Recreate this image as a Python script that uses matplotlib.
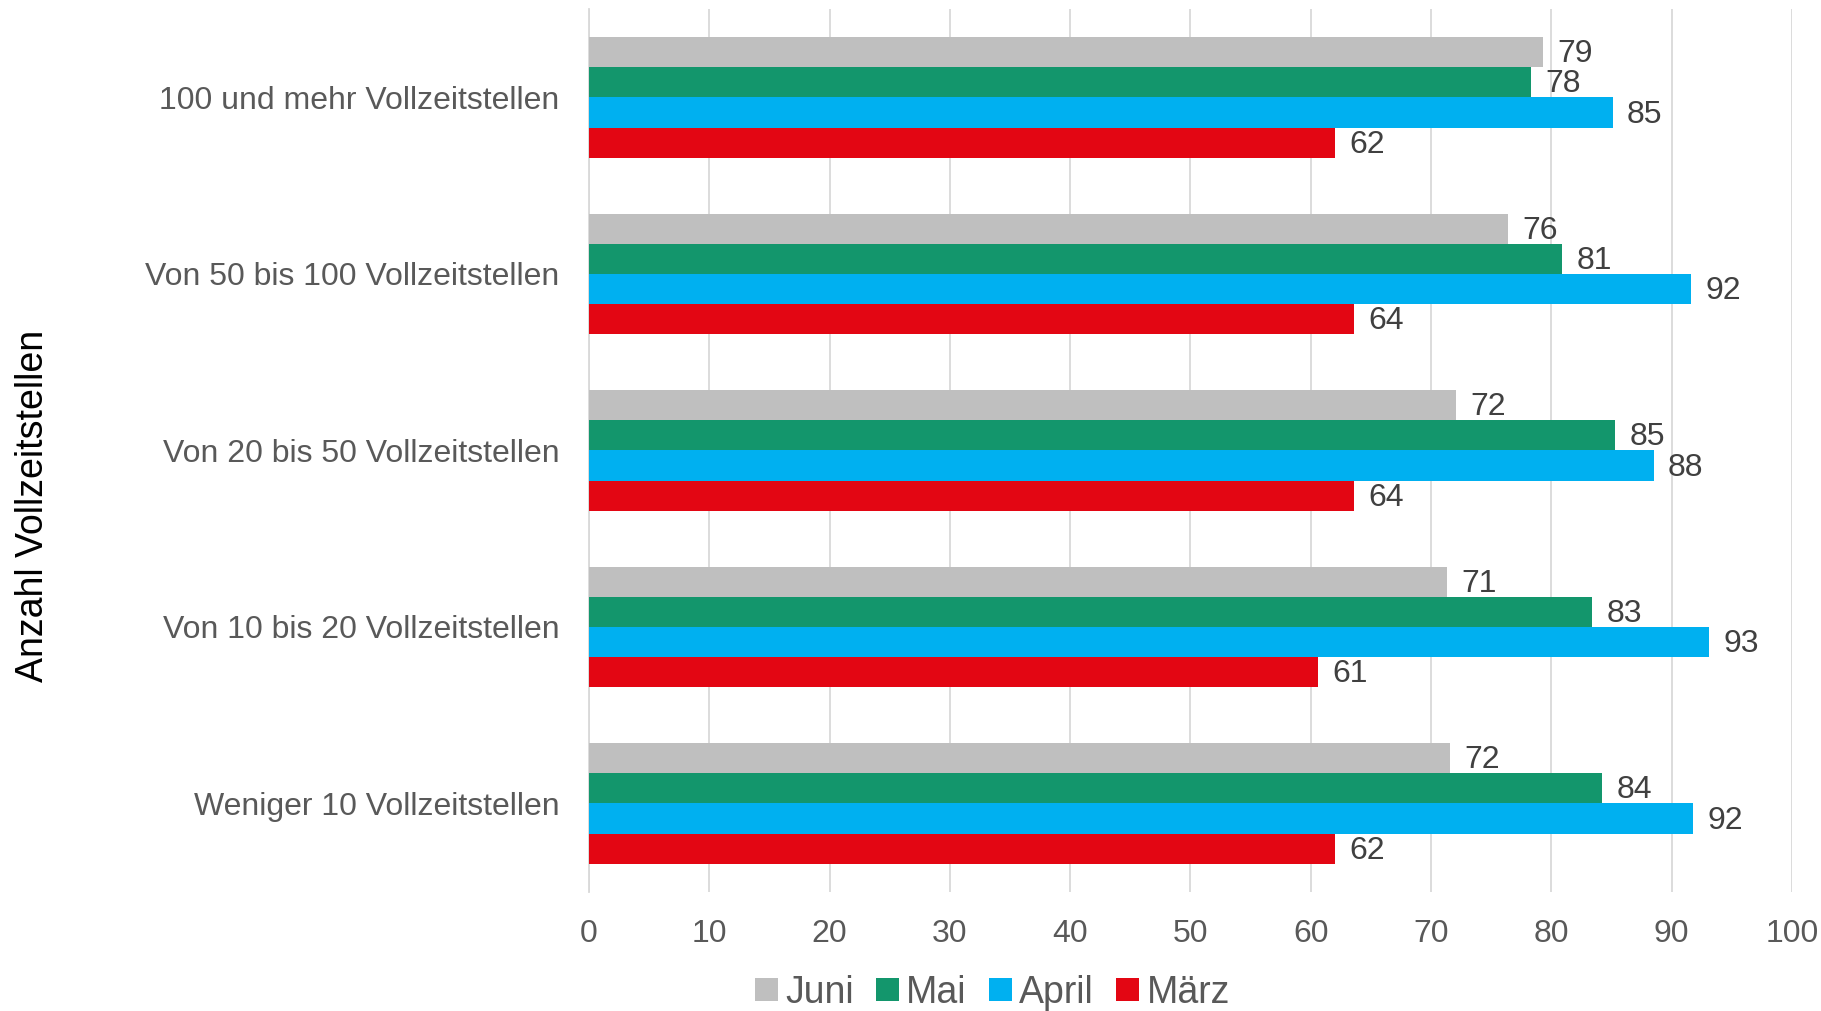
import numpy as np
import matplotlib
matplotlib.use('Agg')
import matplotlib.pyplot as plt

plt.rcParams['font.family'] = ['Liberation Sans', 'DejaVu Sans']

# ------------------- Daten -------------------
categories = [
    '100 und mehr Vollzeitstellen',
    'Von 50 bis 100 Vollzeitstellen',
    'Von 20 bis 50 Vollzeitstellen',
    'Von 10 bis 20 Vollzeitstellen',
    'Weniger 10 Vollzeitstellen',
]
series_names = ['Juni', 'Mai', 'April', 'März']
juni = [79.3, 76.4, 72.1, 71.3, 71.6]
mai = [78.3, 80.9, 85.3, 83.4, 84.2]
april = [85.1, 91.6, 88.5, 93.1, 91.8]
maerz = [62.0, 63.6, 63.6, 60.6, 62.0]
x_ticks = list(range(0, 101, 10))

colors = ['#BFBFBF', '#13966C', '#00B0F0', '#E30613']
series = [juni, mai, april, maerz]

fig = plt.figure(figsize=(18.21, 10.11), dpi=100)
ax = fig.add_axes([0.3234, 0.118, 0.6606, 0.873])

y = np.arange(len(categories))
h = 0.171
offsets = [-1.5, -0.5, 0.5, 1.5]
for vals, name, col, off in zip(series, series_names, colors, offsets):
    bars = ax.barh(y + off * h, vals, height=h, color=col, label=name, zorder=3)
    for b, v in zip(bars, vals):
        ax.text(v + 1.2, b.get_y() + b.get_height() / 2 + 0.012, f'{v:.0f}',
                ha='left', va='center', fontsize=23, color='#404040', zorder=4)

ax.set_xlim(0, 100)
ax.set_ylim(len(categories) - 0.5, -0.5)
ax.set_xticks(x_ticks)
ax.set_yticks(y)
ax.set_yticklabels(categories)
ax.tick_params(axis='x', labelsize=23, colors='#595959', length=0, pad=20)
ax.tick_params(axis='y', labelsize=23, colors='#595959', length=0, pad=21)
ax.grid(axis='x', color='#D9D9D9', linewidth=1.3, zorder=0)
for s in ['top', 'right', 'bottom']:
    ax.spines[s].set_visible(False)
ax.spines['left'].set_color('#D9D9D9')
ax.spines['left'].set_linewidth(1.3)

fig.text(0.018, 0.5, 'Anzahl Vollzeitstellen', rotation=90, ha='center', va='center',
         fontsize=27, color='black')

leg = fig.legend(loc='center', bbox_to_anchor=(0.545, 0.018), ncol=4, frameon=False,
                 fontsize=27, handlelength=0.6, handleheight=0.6, handletextpad=0.2,
                 columnspacing=0.6)
for t in leg.get_texts():
    t.set_color('#595959')

fig.savefig('out.png', dpi=100)
